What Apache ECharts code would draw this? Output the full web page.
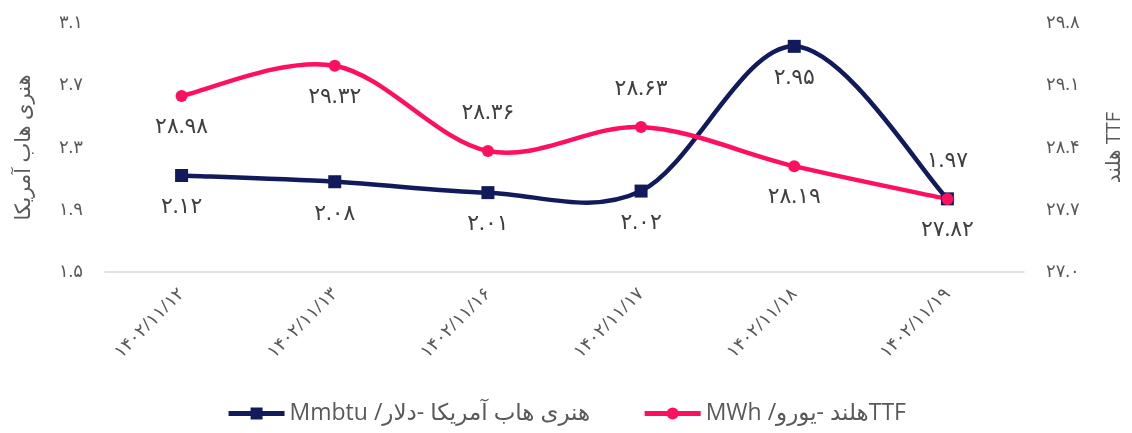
<!DOCTYPE html>
<html>
<head>
<meta charset="utf-8">
<script src="https://cdn.jsdelivr.net/npm/echarts@6/dist/echarts.min.js"></script>
<style>
html,body{margin:0;padding:0;background:#fff;}
#chart{width:1132px;height:433px;}
</style>
</head>
<body>
<div id="chart"></div>
<script>
// ---- data ----
const categories = ['1402/11/12','1402/11/13','1402/11/16','1402/11/17','1402/11/18','1402/11/19'];
const henryHub = [2.12, 2.08, 2.01, 2.02, 2.95, 1.97];
const ttf = [28.98, 29.32, 28.36, 28.63, 28.19, 27.82];
const henryName = '\u202Bهنری هاب آمریکا -دلار/ Mmbtu\u202C';
const ttfName = '\u202BTTFهلند -یورو/ MWh\u202C';
const leftAxisName = 'هنری هاب آمریکا';
const rightAxisName = 'هلند TTF';
// label placement (layout only)
const henrySides = ['bottom','bottom','bottom','bottom','bottom','top'];
const ttfSides = ['bottom','bottom','top','top','bottom','bottom'];

const fa = s => String(s).replace(/[0-9]/g, d => '۰۱۲۳۴۵۶۷۸۹'[+d]);
const NAVY = '#111b5c', PINK = '#ff0f5f';
const FONT = '"Open Sans", "DejaVu Sans", sans-serif';
const sideLabel = side => ({position: side, distance: side === 'top' ? 21 : 14});

// smooth curve (Excel-like Catmull-Rom) drawn through the axis scales
function curveRenderer(values, color) {
  return function (params, api) {
    const i = params.dataIndex, n = values.length;
    if (i >= n - 1) return null;
    const P = j => api.coord([Math.max(0, Math.min(n - 1, j)), values[Math.max(0, Math.min(n - 1, j))]]);
    const p0 = P(i), p1 = P(i + 1), pm = P(i - 1), pn = P(i + 2);
    const t0 = [(p1[0] - pm[0]) / 6, (p1[1] - pm[1]) / 6];
    const t1 = [(pn[0] - p0[0]) / 6, (pn[1] - p0[1]) / 6];
    return {
      type: 'bezierCurve',
      shape: {x1: p0[0], y1: p0[1], x2: p1[0], y2: p1[1],
              cpx1: p0[0] + t0[0], cpy1: p0[1] + t0[1],
              cpx2: p1[0] - t1[0], cpy2: p1[1] - t1[1]},
      style: {stroke: color, lineWidth: 4.5, fill: null, lineCap: 'round'}
    };
  };
}

const chart = echarts.init(document.getElementById('chart'));
chart.setOption({
  animation: false,
  backgroundColor: '#fff',
  textStyle: {fontFamily: FONT},
  grid: {left: 105, right: 107, top: 23, bottom: 161},
  legend: {
    bottom: 3, left: 'center', itemWidth: 56, itemHeight: 15, itemGap: 52,
    textStyle: {fontSize: 23, color: '#595959', fontFamily: FONT},
    data: [
      {name: henryName, itemStyle: {color: NAVY}, lineStyle: {color: NAVY, width: 5, opacity: 1}},
      {name: ttfName, itemStyle: {color: PINK}, lineStyle: {color: PINK, width: 5, opacity: 1}}
    ]
  },
  xAxis: {
    type: 'category', data: categories, boundaryGap: true,
    axisLine: {lineStyle: {color: '#d9d9d9', width: 1.5}},
    axisTick: {show: false},
    axisLabel: {rotate: 45, margin: 19, fontSize: 18, color: '#595959', formatter: v => fa(v)}
  },
  yAxis: [{
    type: 'value', min: 1.5, max: 3.1, interval: 0.4,
    name: leftAxisName, nameLocation: 'middle', nameRotate: 90, nameGap: 70,
    nameTextStyle: {fontSize: 21, color: '#595959'},
    axisLine: {show: false}, axisTick: {show: false}, splitLine: {show: false},
    axisLabel: {margin: 22, fontSize: 18, color: '#595959', formatter: v => fa(v.toFixed(1))}
  }, {
    type: 'value', min: 27.0, max: 29.8, interval: 0.7, position: 'right',
    name: rightAxisName, nameLocation: 'middle', nameRotate: 90, nameGap: 80,
    nameTextStyle: {fontSize: 20, color: '#595959'},
    axisLine: {show: false}, axisTick: {show: false}, splitLine: {show: false},
    axisLabel: {margin: 22, fontSize: 18, color: '#595959', formatter: v => fa(v.toFixed(1))}
  }],
  series: [{
    name: 'henry-curve', type: 'custom', yAxisIndex: 0, silent: true, clip: false,
    encode: {x: 0, y: 1}, data: henryHub.map((v, i) => [i, v]),
    renderItem: curveRenderer(henryHub, NAVY), z: 2
  }, {
    name: 'ttf-curve', type: 'custom', yAxisIndex: 1, silent: true, clip: false,
    encode: {x: 0, y: 1}, data: ttf.map((v, i) => [i, v]),
    renderItem: curveRenderer(ttf, PINK), z: 3
  }, {
    name: henryName, type: 'line', yAxisIndex: 0,
    symbol: 'rect', symbolSize: 13,
    lineStyle: {color: NAVY, width: 0, opacity: 0}, itemStyle: {color: NAVY},
    data: henryHub.map((v, i) => ({value: v, label: sideLabel(henrySides[i])})),
    label: {show: true, fontSize: 22, color: '#404040', formatter: p => fa(p.value.toFixed(2))},
    z: 4
  }, {
    name: ttfName, type: 'line', yAxisIndex: 1,
    symbol: 'circle', symbolSize: 12,
    lineStyle: {color: PINK, width: 0, opacity: 0}, itemStyle: {color: PINK},
    data: ttf.map((v, i) => ({value: v, label: sideLabel(ttfSides[i])})),
    label: {show: true, fontSize: 22, color: '#404040', formatter: p => fa(p.value.toFixed(2))},
    z: 5
  }]
});
</script>
</body>
</html>
